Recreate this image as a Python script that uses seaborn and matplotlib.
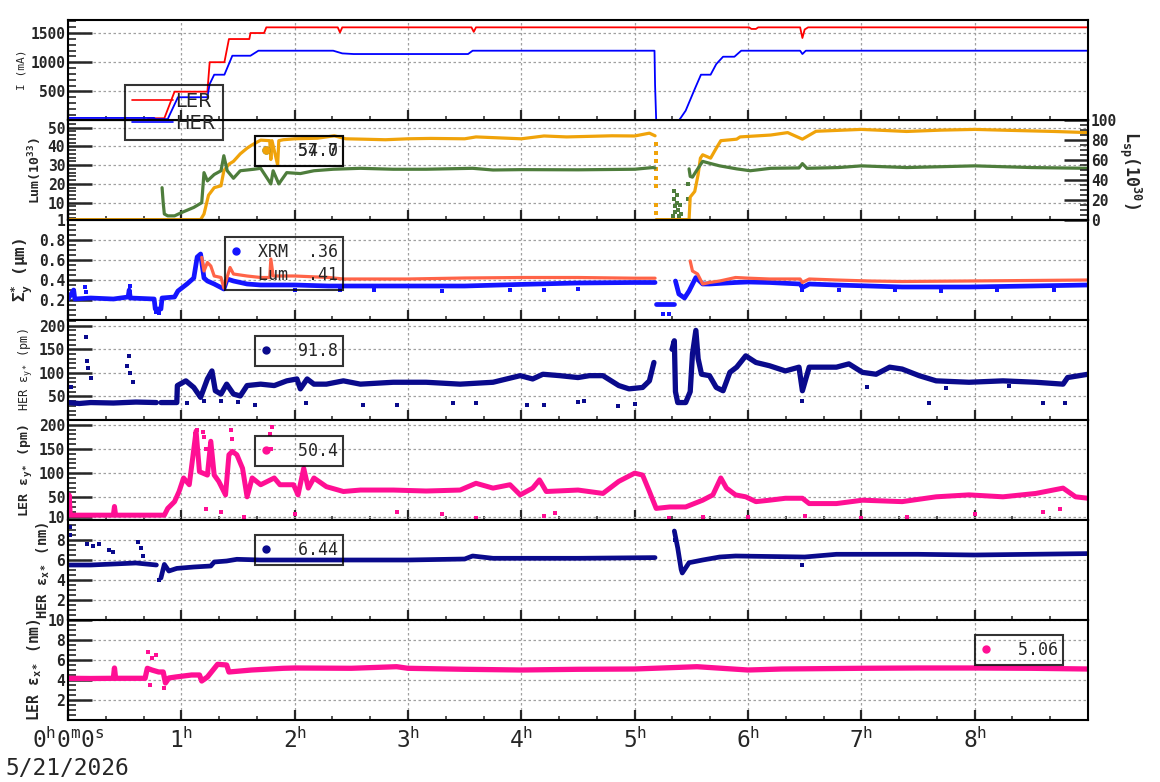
import numpy as np
import pandas as pd
import matplotlib
matplotlib.use('Agg')
import matplotlib.pyplot as plt
import seaborn as sns
from matplotlib.lines import Line2D
from matplotlib.ticker import MultipleLocator, FixedLocator

nan = np.nan

# ---- values, time in hours ----
# beam currents (mA)
ler_t = [0, 0.70, 0.71, 0.85, 0.94, 1.23, 1.25, 1.38, 1.42, 1.60, 1.61, 1.73, 1.75, 2.38, 2.40, 2.42,
         3.56, 3.58, 3.60, 6.01, 6.03, 6.07, 6.09, 6.46, 6.48, 6.50, 6.53, 9.0]
ler_i = [15, 15, 40, 40, 495, 495, 1000, 1000, 1397, 1397, 1500, 1500, 1597, 1597, 1510, 1597,
         1597, 1520, 1597, 1597, 1570, 1570, 1597, 1597, 1415, 1560, 1597, 1597]
her_t = [0, 0.76, 0.77, 0.88, 0.90, 0.97, 1.23, 1.25, 1.29, 1.38, 1.45, 1.61, 1.68, 2.34, 2.42, 2.52,
         3.53, 3.57, 5.175, 5.18, 5.19, 5.39, 5.45, 5.53, 5.585, 5.67, 5.72, 5.78, 5.88, 5.94,
         6.46, 6.48, 6.51, 9.0]
her_i = [45, 45, 25, 25, 110, 400, 400, 626, 786, 786, 1111, 1111, 1197, 1197, 1151, 1140,
         1140, 1197, 1197, 608, 0, 0, 170, 540, 786, 786, 968, 1094, 1094, 1197,
         1197, 1140, 1197, 1197]

# luminosity (1e33)
lum_hi_t = [0, 1.17, 1.20, 1.24, 1.29, 1.35, 1.375, 1.42, 1.46, 1.52, 1.58, 1.62, 1.70, 1.78, 1.79,
            1.80, 1.85, 1.86, 1.90, 2.0, 2.2, 2.35, 2.45, 2.6, 2.8, 3.0, 3.2, 3.5, 3.6, 3.8,
            4.0, 4.2, 4.4, 4.6, 4.8, 5.0, 5.13, 5.18, 5.185, 5.19, 5.48, 5.49, 5.53, 5.56, 5.58,
            5.60, 5.67, 5.72, 5.76, 5.9, 5.93, 6.2, 6.35, 6.48, 6.6, 7.0, 7.4, 7.7, 8.0, 8.3,
            8.7, 9.0]
lum_hi = [1, 1, 4, 14, 18, 19, 27, 30.5, 32, 36, 39, 40.6, 43.3, 43, 33,
          43, 30, 43, 43.5, 44, 44.3, 45.6, 44, 43.8, 43.5, 44, 44.2, 44, 45, 44.5,
          44, 45.5, 45, 45.3, 45.6, 45.5, 47, 45.6, nan, 1, 1, 13, 16, 25, 33.7,
          35.5, 33.7, 39, 43, 43.8, 45, 46, 47.3, 43.8, 48, 49, 47.9, 48.6, 49, 48.5,
          47.9, 47.3]
lum_hi_dot_t = [5.19, 5.19, 5.19, 5.19, 5.19, 5.19, 5.19, 5.19]
lum_hi_dot = [41, 36.7, 32, 27.8, 23, 19, 9, 4.6]
lum_lo_t = [0.83, 0.84, 0.85, 0.88, 0.94, 1.0, 1.11, 1.18, 1.20, 1.23, 1.29, 1.35, 1.375, 1.405, 1.46,
            1.52, 1.64, 1.70, 1.79, 1.81, 1.86, 1.93, 2.05, 2.17, 2.34, 2.58, 2.87, 3.16, 3.57, 3.75,
            4.0, 4.5, 5.0, 5.16, 5.18, 5.185, 5.48, 5.49, 5.51, 5.54, 5.60, 5.66, 5.75, 5.9, 6.02,
            6.2, 6.45, 6.48, 6.52, 6.8, 7.0, 7.4, 8.0, 8.5, 9.0]
lum_lo = [18, 10, 4, 3, 3, 4.7, 7.5, 10, 26, 21.6, 25, 27, 35, 27, 23,
          27, 27.8, 28.3, 20, 27, 20, 26, 25.5, 27, 27.8, 28.3, 27.8, 27.8, 28.3, 27.4,
          27.6, 27.5, 27.8, 28.7, 28.5, nan, 28, 24, 23.6, 26.5, 32, 31, 29.6, 28, 27,
          28.3, 28.5, 30.8, 28.3, 28.7, 29.6, 28.7, 29.6, 28.7, 28.3]
lum_lo_dot_t = [5.34, 5.345, 5.35, 5.355, 5.36, 5.37, 5.375, 5.38, 5.39, 5.40, 5.41, 5.47, 5.475]
lum_lo_dot = [3, 12, 16, 8, 5, 14, 10, 6, 3, 9, 4, 12, 20]

# vertical beam size (um)
xrm_t = [0, 0.05, 0.06, 0.2, 0.4, 0.53, 0.54, 0.55, 0.76, 0.77, 0.82, 0.83, 0.94, 0.97, 1.05,
         1.11, 1.14, 1.17, 1.20, 1.23, 1.29, 1.375, 1.405, 1.46, 1.58, 1.70, 2.0, 2.3, 2.6, 3.0,
         3.5, 4.0, 4.5, 5.0, 5.18, 5.185, 5.19, 5.35, 5.355, 5.36, 5.39, 5.44, 5.48, 5.54, 5.60,
         5.66, 5.89, 6.0, 6.19, 6.46, 6.48, 6.54, 6.78, 7.07, 7.36, 7.95, 8.5, 9.0]
xrm = [0.21, 0.30, 0.21, 0.22, 0.21, 0.23, 0.30, 0.22, 0.21, 0.11, 0.11, 0.22, 0.23, 0.29, 0.36,
       0.42, 0.63, 0.66, 0.42, 0.39, 0.36, 0.31, 0.41, 0.39, 0.36, 0.35, 0.35, 0.34, 0.34, 0.34,
       0.34, 0.356, 0.37, 0.375, 0.375, nan, 0.157, 0.157, nan, 0.39, 0.26, 0.22, 0.29, 0.425, 0.36,
       0.36, 0.375, 0.38, 0.375, 0.36, 0.324, 0.36, 0.35, 0.34, 0.33, 0.33, 0.34, 0.35]
xrm_dot_t = [0.15, 0.16, 0.55, 0.78, 0.80, 2.0, 2.4, 2.7, 3.3, 3.9, 4.2, 4.5, 5.25, 5.3,
             6.48, 6.8, 7.3, 7.7, 8.2, 8.7]
xrm_dot = [0.33, 0.28, 0.34, 0.08, 0.07, 0.30, 0.30, 0.30, 0.29, 0.30, 0.30, 0.31, 0.06, 0.06,
           0.30, 0.30, 0.30, 0.29, 0.30, 0.30]
lumsz_t = [1.18, 1.20, 1.23, 1.26, 1.29, 1.35, 1.375, 1.43, 1.46, 1.58, 1.70, 1.78, 1.79, 1.81, 2.0,
           2.3, 2.43, 3.0, 3.5, 4.0, 4.5, 5.0, 5.18, 5.185, 5.49, 5.51, 5.555, 5.60, 5.66, 5.75,
           5.89, 6.01, 6.19, 6.46, 6.48, 6.54, 6.78, 7.07, 7.36, 7.95, 9.0]
lumsz = [0.626, 0.49, 0.575, 0.54, 0.44, 0.425, 0.32, 0.525, 0.46, 0.44, 0.425, 0.425, 0.61, 0.44, 0.44,
         0.425, 0.41, 0.41, 0.42, 0.425, 0.425, 0.418, 0.418, nan, 0.59, 0.49, 0.46, 0.36, 0.375, 0.39,
         0.425, 0.418, 0.41, 0.41, 0.375, 0.41, 0.40, 0.39, 0.385, 0.39, 0.40]

# HER vertical emittance (pm)
hey_t = [0, 0.1, 0.2, 0.4, 0.6, 0.78, 0.785, 0.82, 0.96, 0.965, 1.04, 1.11, 1.17, 1.23, 1.27,
         1.30, 1.35, 1.40, 1.46, 1.52, 1.58, 1.70, 1.82, 1.93, 2.02, 2.05, 2.11, 2.17, 2.28, 2.43,
         2.58, 2.87, 3.16, 3.46, 3.75, 3.99, 4.1, 4.19, 4.34, 4.5, 4.6, 4.72, 4.86, 4.95, 5.07,
         5.13, 5.17, 5.175, 5.33, 5.35, 5.36, 5.38, 5.45, 5.49, 5.51, 5.54, 5.56, 5.59, 5.66, 5.72,
         5.78, 5.84, 5.9, 5.98, 6.07, 6.19, 6.33, 6.45, 6.48, 6.54, 6.78, 6.89, 7.01, 7.13, 7.25,
         7.36, 7.51, 7.66, 7.95, 8.25, 8.54, 8.78, 8.82, 9.0]
hey = [37, 35, 37, 36, 38, 37, nan, 37, 37, 73, 83, 69, 48, 87, 104,
       62, 55, 76, 55, 51, 73, 76, 73, 83, 87, 66, 87, 76, 76, 83,
       76, 80, 80, 76, 80, 94, 87, 97, 94, 90, 94, 94, 73, 66, 69,
       83, 122, nan, 150, 168, 60, 37, 37, 60, 140, 190, 130, 97, 94, 69,
       62, 101, 112, 136, 122, 115, 104, 112, 62, 112, 112, 119, 101, 97, 112,
       108, 94, 83, 80, 83, 80, 76, 90, 97]
hey_dot_t = [0.03, 0.158, 0.17, 0.18, 0.2, 0.52, 0.54, 0.55, 0.57, 1.05, 1.2, 1.35, 1.5, 1.65, 2.1,
             2.6, 2.9, 3.4, 3.6, 4.05, 4.2, 4.5, 4.55, 4.85, 5.0, 6.48, 7.05, 7.6, 7.75, 8.3, 8.6, 8.8]
hey_dot = [70, 175, 126, 110, 88, 115, 136, 100, 80, 35, 40, 40, 38, 32, 35,
           32, 32, 35, 35, 32, 32, 38, 40, 30, 34, 40, 70, 37, 68, 72, 36, 35]

# LER vertical emittance (pm)
ley_t = [0, 0.01, 0.02, 0.2, 0.4, 0.41, 0.42, 0.6, 0.85, 0.88, 0.94, 0.98, 1.02, 1.07, 1.10,
         1.13, 1.16, 1.23, 1.26, 1.29, 1.33, 1.39, 1.42, 1.45, 1.49, 1.54, 1.58, 1.625, 1.70, 1.76,
         1.82, 1.87, 1.99, 2.03, 2.08, 2.12, 2.17, 2.28, 2.43, 2.58, 2.87, 3.16, 3.46, 3.6, 3.75,
         3.90, 3.99, 4.1, 4.16, 4.22, 4.5, 4.72, 4.86, 5.0, 5.07, 5.13, 5.19, 5.31, 5.45, 5.60,
         5.69, 5.76, 5.81, 5.89, 5.98, 6.07, 6.19, 6.33, 6.48, 6.54, 6.78, 7.01, 7.36, 7.66, 7.95,
         8.25, 8.54, 8.78, 8.89, 9.0]
ley = [13, 55, 13, 13, 13, 31, 13, 13, 13, 27, 41, 62, 90, 76, 131,
       187, 103, 96, 166, 96, 83, 55, 138, 145, 138, 110, 51, 90, 76, 83,
       90, 76, 76, 55, 110, 69, 90, 72, 62, 65, 65, 63, 65, 79, 69,
       76, 55, 69, 86, 62, 65, 58, 83, 100, 96, 62, 27, 30, 30, 44,
       55, 90, 69, 55, 51, 41, 44, 48, 48, 37, 37, 44, 41, 51, 55,
       51, 58, 69, 51, 48]
ley_dot_t = [1.12, 1.14, 1.19, 1.20, 1.22, 1.25, 1.27, 1.44, 1.45, 1.78, 1.79, 1.80, 1.22, 1.35, 1.55,
             2.0, 2.9, 3.3, 3.6, 4.2, 4.3, 5.3, 5.6, 6.0, 6.5, 7.0, 7.4, 8.0, 8.6, 8.75]
ley_dot = [180, 190, 185, 175, 150, 160, 140, 190, 170, 180, 150, 195, 25, 20, 10,
           15, 20, 15, 8, 12, 18, 8, 10, 10, 12, 8, 10, 15, 20, 25]

# horizontal emittances (nm)
hex_t = [0, 0.2, 0.4, 0.6, 0.78, 0.785, 0.82, 0.85, 0.89, 0.96, 1.11, 1.26, 1.29, 1.40, 1.49,
         1.70, 2.0, 2.5, 3.0, 3.5, 3.57, 3.75, 4.5, 5.18, 5.185, 5.35, 5.38, 5.41, 5.42, 5.48,
         5.6, 5.75, 5.89, 6.5, 6.78, 7.5, 8.0, 8.5, 9.0]
hex_ = [5.5, 5.5, 5.6, 5.7, 5.5, nan, 4.2, 5.56, 4.9, 5.16, 5.3, 5.4, 5.8, 5.9, 6.07,
        6.0, 6.0, 6.0, 6.0, 6.1, 6.4, 6.17, 6.17, 6.24, nan, 8.9, 7.2, 5.06, 4.7, 5.73,
        6.0, 6.3, 6.4, 6.3, 6.57, 6.57, 6.5, 6.57, 6.64]
hex_dot_t = [0.02, 0.02, 0.17, 0.22, 0.27, 0.36, 0.40, 0.62, 0.64, 0.66, 0.80, 5.36, 6.48]
hex_dot = [9.3, 8.5, 7.6, 7.4, 7.6, 7.0, 6.8, 7.8, 7.2, 6.4, 4.0, 8.0, 5.5]
lex_t = [0, 0.2, 0.40, 0.41, 0.42, 0.68, 0.70, 0.74, 0.80, 0.84, 0.86, 0.89, 0.95, 1.09, 1.16,
         1.18, 1.23, 1.32, 1.40, 1.42, 1.62, 1.9, 2.0, 2.5, 2.9, 3.0, 3.5, 4.0, 4.5, 5.0,
         5.55, 6.0, 6.3, 7.0, 7.5, 8.0, 8.5, 9.0]
lex = [4.17, 4.15, 4.17, 5.2, 4.17, 4.17, 5.17, 5.0, 4.8, 4.8, 3.7, 4.2, 4.3, 4.5, 4.5,
       3.9, 4.3, 5.57, 5.5, 4.8, 5.0, 5.17, 5.2, 5.17, 5.33, 5.17, 5.07, 5.0, 5.07, 5.1,
       5.33, 5.0, 5.1, 5.17, 5.2, 5.2, 5.17, 5.1]
lex_dot_t = [0.71, 0.74, 0.78, 0.72, 0.85]
lex_dot = [6.8, 6.2, 6.5, 3.5, 3.2]

hour_labels = ['0$^{h}$0$^{m}$0$^{s}$', '1$^{h}$', '2$^{h}$', '3$^{h}$', '4$^{h}$',
               '5$^{h}$', '6$^{h}$', '7$^{h}$', '8$^{h}$']
date_label = '5/21/2026'
lum_labels = ['  54.0', '  57.7']
size_labels = [' XRM  .36', ' Lum  .41']
hey_label = '  91.8'
ley_label = '  50.4'
hex_label = '  6.44'
lex_label = '  5.06'

c_ler, c_her = '#ff0000', '#0000ff'
c_orange, c_green = '#f0a30a', '#4e7d3c'
c_xrm, c_lum = '#1414ff', '#ff6448'
c_navy, c_pink = '#0a0a8c', '#ff0f94'

sns.set_style('ticks')
plt.rcParams.update({
    'font.family': ['DejaVu Sans Mono'],
    'mathtext.fontset': 'custom',
    'mathtext.rm': 'DejaVu Sans Mono',
    'mathtext.it': 'DejaVu Sans Mono',
    'mathtext.bf': 'DejaVu Sans Mono:bold',
    'mathtext.default': 'rm',
    'axes.linewidth': 1.5,
    'axes.edgecolor': 'black',
})


def trace(ax, t, v, color, lw):
    d = pd.DataFrame({'t': t, 'v': v})
    d['seg'] = d['v'].isna().cumsum()
    d = d.dropna()
    sns.lineplot(data=d, x='t', y='v', units='seg', estimator=None, sort=False,
                 ax=ax, color=color, linewidth=lw, legend=False)


def dots(ax, t, v, color, s=8):
    sns.scatterplot(x=t, y=v, ax=ax, color=color, s=s, marker='s', linewidth=0, legend=False)


def bold_yticks(ax):
    for lab in ax.get_yticklabels():
        lab.set_fontweight('bold')


def style(ax, ylim, yticks, minor, label, bold, lsize):
    ax.set_xlim(0, 9.0)
    ax.set_ylim(*ylim)
    ax.set_yticks(yticks)
    ax.yaxis.set_minor_locator(MultipleLocator(minor))
    ax.xaxis.set_major_locator(FixedLocator(range(9)))
    ax.xaxis.set_minor_locator(MultipleLocator(1 / 3))
    ax.grid(True, which='major', color='#a0a0a0', linestyle=(0, (2, 2)), linewidth=0.9)
    ax.tick_params(axis='x', which='major', direction='in', length=7, width=1.6, top=False)
    ax.tick_params(axis='x', which='minor', direction='in', length=3, width=1.1, top=False)
    ax.tick_params(axis='y', which='major', direction='in', length=17, width=1.8,
                   labelsize=10.5, pad=2)
    ax.tick_params(axis='y', which='minor', direction='in', length=6, width=1.2)
    bold_yticks(ax)
    ax.set_xlabel('')
    ax.set_ylabel(label, fontsize=lsize, fontweight='bold' if bold else 'normal', labelpad=3)


def box_legend(ax, handles, labels, x_px, top_px, panel_top, size=12, family='DejaVu Sans Mono', **kw):
    opts = dict(borderpad=0.35, handlelength=0.6, handletextpad=0.4, labelspacing=0.3)
    opts.update(kw)
    leg = ax.legend(handles, labels, loc='upper left',
                    bbox_to_anchor=((x_px - 68) / 1020, (panel_top + 100 - top_px) / 100),
                    borderaxespad=0, prop={'family': family, 'size': size},
                    frameon=True, fancybox=False, **opts)
    fr = leg.get_frame()
    fr.set_facecolor('none')
    fr.set_edgecolor('black')
    fr.set_linewidth(1.5)
    return leg


def dot(c):
    return Line2D([], [], ls='none', marker='o', ms=5, color=c)


fig, axes = plt.subplots(7, 1, sharex=True, figsize=(11.6, 7.82), dpi=100)
fig.subplots_adjust(left=68 / 1160, right=1088 / 1160, top=1 - 20 / 782, bottom=1 - 720 / 782, hspace=0)

# currents
ax = axes[0]
trace(ax, ler_t, ler_i, c_ler, 1.3)
trace(ax, her_t, her_i, c_her, 1.3)
style(ax, (10, 1723), [500, 1000, 1500], 100, 'I (mA)', False, 8)
ax.set_zorder(5)
box_legend(ax, [Line2D([], [], color=c_ler, lw=1.2), Line2D([], [], color=c_her, lw=1.2)],
           ['LER', 'HER'], 125, 85, 20, size=14, family='DejaVu Sans',
           handlelength=2.1, handletextpad=0.15, borderpad=0.35, labelspacing=0.15)

# luminosity
ax = axes[1]
trace(ax, lum_hi_t, lum_hi, c_orange, 2.3)
trace(ax, lum_lo_t, lum_lo, c_green, 2.3)
dots(ax, lum_hi_dot_t, lum_hi_dot, c_orange)
dots(ax, lum_lo_dot_t, lum_lo_dot, c_green)
style(ax, (0.8, 54), [1, 10, 20, 30, 40, 50], 2, r'Lum(10$^{\mathbf{33}}$)', True, 9.5)
leg = box_legend(ax, [dot(c_green)], [lum_labels[0]], 255, 136, 120)
ax.add_artist(leg)
box_legend(ax, [dot(c_orange)], [lum_labels[1]], 255, 136, 120)
axr = ax.twinx()
axr.set_ylim(0, 100.5)
axr.set_yticks([0, 20, 40, 60, 80, 100])
axr.yaxis.set_minor_locator(MultipleLocator(5))
axr.tick_params(axis='y', which='major', direction='in', length=17, width=1.8, labelsize=10.5, pad=2)
axr.tick_params(axis='y', which='minor', direction='in', length=6, width=1.2)
bold_yticks(axr)
axr.set_ylabel(r'L$_{\mathbf{sp}}$(10$^{\mathbf{30}}$)', rotation=270, fontweight='bold',
               fontsize=12, labelpad=19)

# beam size
ax = axes[2]
trace(ax, xrm_t, xrm, c_xrm, 3.4)
trace(ax, lumsz_t, lumsz, c_lum, 2.3)
dots(ax, xrm_dot_t, xrm_dot, c_xrm)
style(ax, (0, 1.0), [0.2, 0.4, 0.6, 0.8], 0.05, r'$\mathbf{Σ}_{\mathbf{y}}^{\mathbf{*}}$ (μm)', True, 11.5)
box_legend(ax, [dot(c_xrm), Line2D([], [], ls='none', color=c_lum)], size_labels, 225, 237, 220)

# HER vertical emittance
ax = axes[3]
trace(ax, hey_t, hey, c_navy, 3.8)
dots(ax, hey_dot_t, hey_dot, c_navy)
style(ax, (0, 212), [50, 100, 150, 200], 10, 'HER ε$_{y*}$ (pm)', False, 8.5)
box_legend(ax, [dot(c_navy)], [hey_label], 255, 336, 320)

# LER vertical emittance
ax = axes[4]
trace(ax, ley_t, ley, c_pink, 3.6)
dots(ax, ley_dot_t, ley_dot, c_pink)
style(ax, (3, 210), [10, 50, 100, 150, 200], 10, r'LER ε$_{\mathbf{y*}}$ (pm)', True, 9.5)
box_legend(ax, [dot(c_pink)], [ley_label], 255, 436, 420)

# HER horizontal emittance
ax = axes[5]
trace(ax, hex_t, hex_, c_navy, 3.4)
dots(ax, hex_dot_t, hex_dot, c_navy)
style(ax, (0, 10), [2, 4, 6, 8], 0.5, r'HER ε$_{\mathbf{x*}}$ (nm)', True, 10)
box_legend(ax, [dot(c_navy)], [hex_label], 255, 535, 520)

# LER horizontal emittance
ax = axes[6]
trace(ax, lex_t, lex, c_pink, 3.8)
dots(ax, lex_dot_t, lex_dot, c_pink)
style(ax, (0, 10), [2, 4, 6, 8, 10], 0.5, r'LER ε$_{\mathbf{x*}}$ (nm)', True, 10.5)
box_legend(ax, [dot(c_pink)], [lex_label], 975, 635, 620)

ax.set_xticks(range(9))
ax.set_xticklabels(hour_labels, fontsize=16.5)
ax.tick_params(axis='x', which='major', pad=5)

fig.text(5 / 1160, 2 / 782, date_label, fontsize=16.5, ha='left', va='bottom')

fig.savefig('out.png', dpi=100)
